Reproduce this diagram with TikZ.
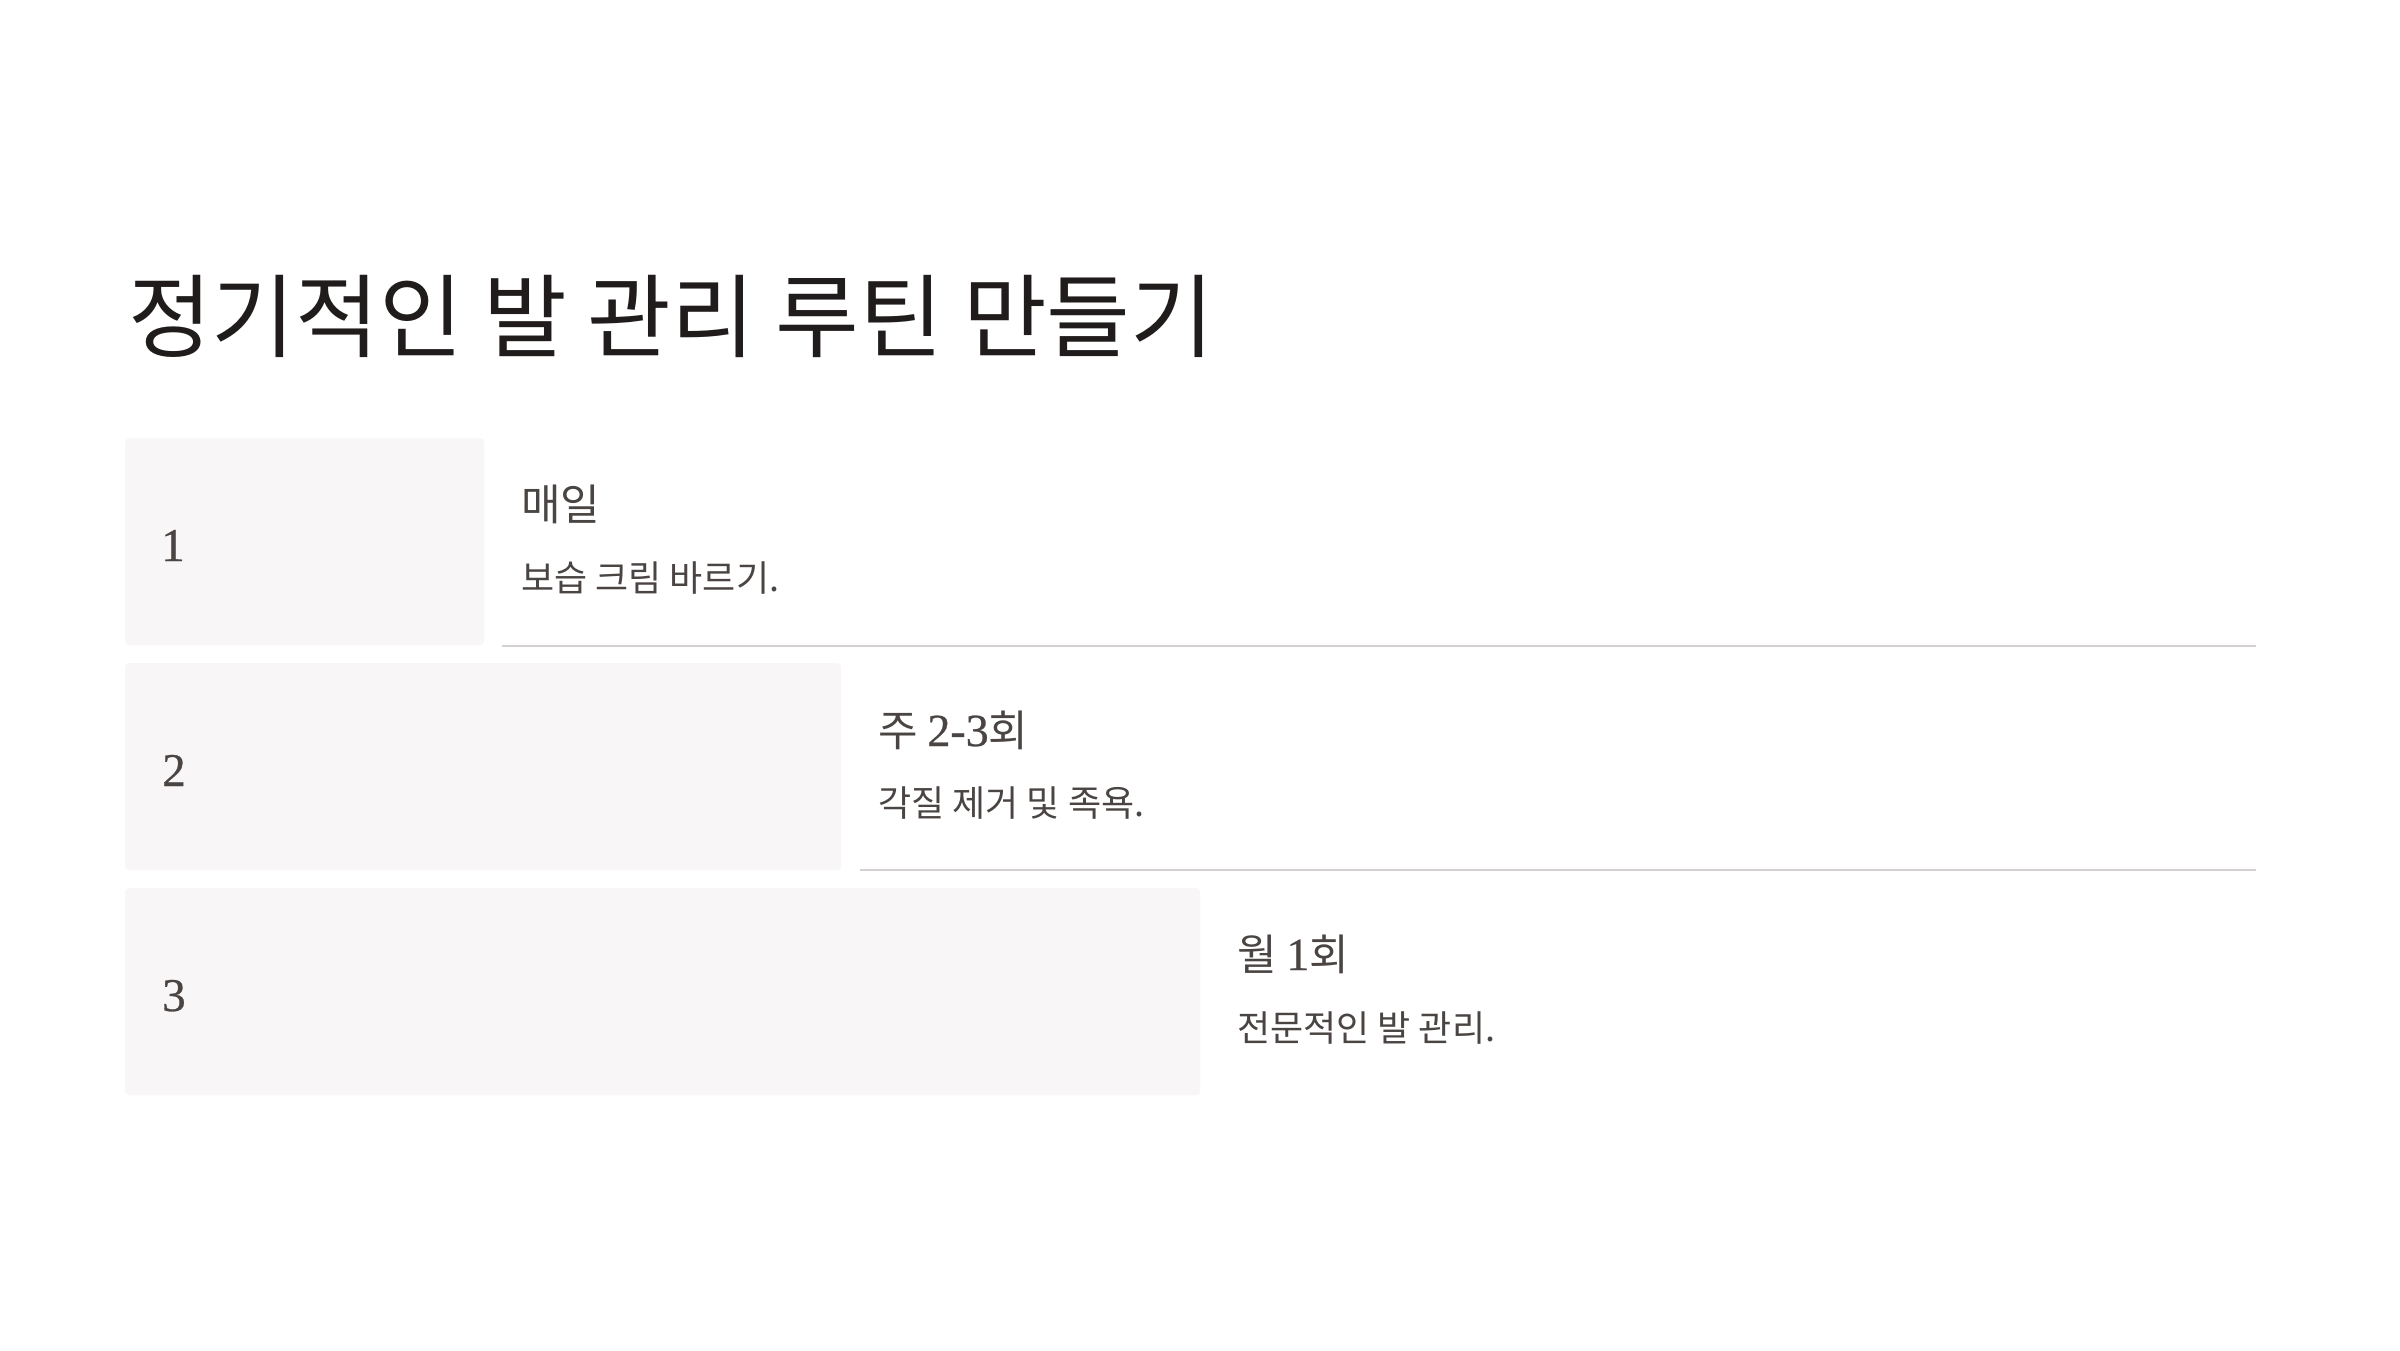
\documentclass[tikz,border=0pt]{standalone}
\usepackage{fontspec}
\setmainfont{Liberation Serif}
\newfontfamily\kr{Noto Sans CJK KR}
\newfontfamily\numf[FakeBold=0.6]{Liberation Serif}
\definecolor{cardfill}{HTML}{F8F6F6}
\definecolor{sepgray}{HTML}{D6D1D1}
\definecolor{titlecol}{HTML}{201C1C}
\definecolor{bodycol}{HTML}{4A4543}
\begin{document}
\begin{tikzpicture}[x=1pt,y=-1pt]
\tikzset{
  card/.style={fill=cardfill, rounded corners=4pt, anchor=north west, inner sep=0},
  sepline/.style={draw=sepgray, line width=2pt},
  titletext/.style={anchor=base west, inner sep=0, text=titlecol, font=\kr\fontsize{91}{91}\selectfont},
  headtext/.style={anchor=base west, inner sep=0, text=bodycol, font=\kr\fontsize{43}{43}\selectfont},
  subtext/.style={anchor=base west, inner sep=0, text=bodycol, font=\kr\fontsize{36}{36}\selectfont},
  numtext/.style={anchor=base west, inner sep=0, text=bodycol, font=\numf\fontsize{47}{47}\selectfont},
}
\useasboundingbox (0,0) rectangle (2400,1350);
\fill[white] (0,0) rectangle (2400,1350);

\node[titletext] (title) at (128,350) {정기적인 발 관리 루틴 만들기};

\node[card, minimum width=359pt, minimum height=207pt] (c1) at (125,438) {};
\node[card, minimum width=716pt, minimum height=207pt] (c2) at (125,663) {};
\node[card, minimum width=1075pt, minimum height=207pt] (c3) at (125,888) {};

\node[numtext] (n1) at (161,561) {1};
\node[numtext] (n2) at (162,786) {2};
\node[numtext] (n3) at (162,1011) {3};

\node[headtext] (h1) at (521,520) {매일};
\node[subtext] (s1) at (521,591) {보습 크림 바르기.};
\node[headtext] (h2) at (878,746) {주 {\numf\fontsize{46}{46}\selectfont 2-3}회};
\node[subtext] (s2) at (878,816) {각질 제거 및 족욕.};
\node[headtext] (h3) at (1237,970) {월 {\numf\fontsize{46}{46}\selectfont 1}회};
\node[subtext] (s3) at (1237,1041) {전문적인 발 관리.};

\coordinate (l1a) at (502,646);
\coordinate (l1b) at (2256,646);
\coordinate (l2a) at (860,870);
\coordinate (l2b) at (2256,870);
\draw[sepline] (l1a) -- (l1b);
\draw[sepline] (l2a) -- (l2b);
\end{tikzpicture}
\end{document}
